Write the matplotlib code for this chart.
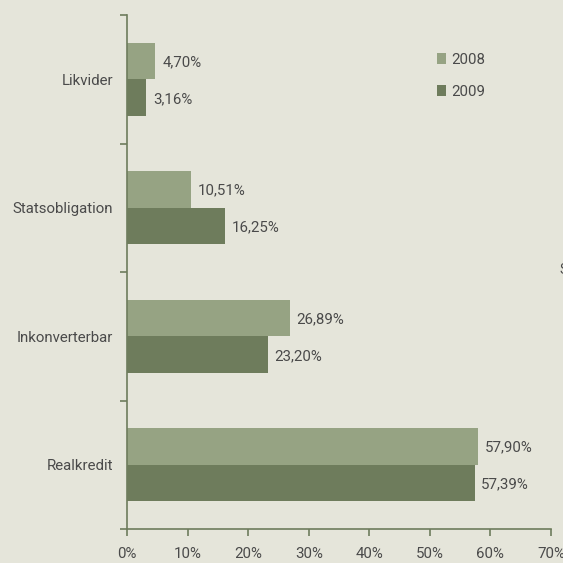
import matplotlib
matplotlib.use("Agg")
import matplotlib.pyplot as plt
import numpy as np

categories = ["Likvider", "Statsobligation", "Inkonverterbar", "Realkredit"]
values_2008 = [4.70, 10.51, 26.89, 57.90]
values_2009 = [3.16, 16.25, 23.20, 57.39]
series_names = ["2008", "2009"]
xticks = [0, 10, 20, 30, 40, 50, 60, 70]

bg = "#e5e5da"
c2008 = "#96a383"
c2009 = "#6e7c5c"
txt = "#4a4a4a"
fam = ["Roboto", "DejaVu Sans"]
fw = "normal"
fs = 10.8

fig = plt.figure(figsize=(5.63, 5.63), dpi=100, facecolor=bg)
ax = fig.add_axes([127/563, 1-529/563, (551-127)/563, (529-15)/563], facecolor=bg)

y = np.arange(len(categories))
h = 0.285
b1 = ax.barh(y - h/2, values_2008, height=h, color=c2008, label=series_names[0])
b2 = ax.barh(y + h/2, values_2009, height=h, color=c2009, label=series_names[1])

def fmt(v):
    return f"{v:.2f}".replace(".", ",") + "%"

for bars, vals in ((b1, values_2008), (b2, values_2009)):
    for rect, v in zip(bars, vals):
        ax.text(v + 1.1, rect.get_y() + rect.get_height()/2 + 0.01, fmt(v),
                va="center", ha="left", fontsize=fs, color=txt, family=fam, weight=fw)

ax.set_ylim(3.5, -0.5)
ax.set_xlim(0, 70)
ax.set_yticks(y)
ax.set_yticklabels(categories, fontsize=fs, color=txt, family=fam, weight=fw)
ax.tick_params(axis="y", which="major", length=0, pad=10)
ax.set_yticks([-0.5, 0.5, 1.5, 2.5, 3.5], minor=True)
ax.tick_params(axis="y", which="minor", length=5, color=c2009, width=1.2)
ax.set_xticks(xticks)
ax.set_xticklabels([f"{t}%" for t in xticks], fontsize=fs, color=txt, family=fam, weight=fw)
ax.tick_params(axis="x", length=5, color=c2009, width=1.2, direction="in", pad=13)
for t in ax.xaxis.get_major_ticks():
    t.tick1line.set_marker(3)
for s in ["top", "right"]:
    ax.spines[s].set_visible(False)
for s in ["left", "bottom"]:
    ax.spines[s].set_color(c2009)
    ax.spines[s].set_linewidth(1.2)

leg = ax.legend(loc="upper left", bbox_to_anchor=(0.70, 0.953), frameon=False,
                handlelength=0.6, handleheight=0.7, handletextpad=0.35,
                labelspacing=1.2, prop={"family": fam, "size": fs, "weight": fw})
for t in leg.get_texts():
    t.set_color(txt)

fig.text(559/563, 1-270/563, "S", fontsize=10, color=txt, family=fam, weight=fw,
         va="center", ha="left")

fig.savefig("out.png", dpi=100, facecolor=bg)
